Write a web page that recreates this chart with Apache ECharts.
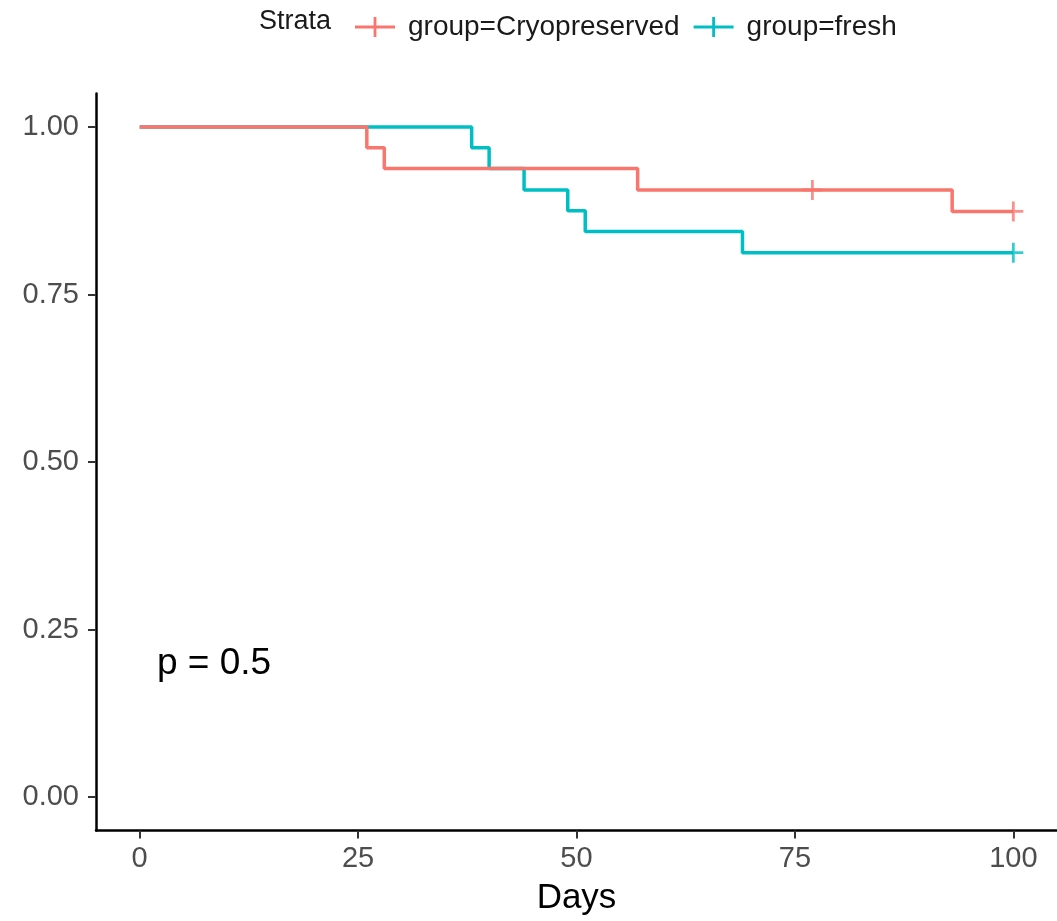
<!DOCTYPE html>
<html>
<head>
<meta charset="utf-8">
<script src="https://cdn.jsdelivr.net/npm/echarts@6/dist/echarts.min.js"></script>
<style>
html,body{margin:0;padding:0;background:#fff;}
#chart{width:1057px;height:921px;}
</style>
</head>
<body>
<div id="chart"></div>
<script>
// Kaplan-Meier step data (time in days, survival probability)
const cryoTimes = [0, 26, 28, 57, 93, 100];
const cryoSurv  = [1.0, 0.969, 0.938, 0.906, 0.874, 0.874];
const cryoCensorTimes = [77, 100];
const cryoCensorSurv  = [0.906, 0.874];

const freshTimes = [0, 38, 40, 44, 49, 51, 69, 100];
const freshSurv  = [1.0, 0.969, 0.938, 0.906, 0.875, 0.844, 0.8125, 0.8125];
const freshCensorTimes = [100];
const freshCensorSurv  = [0.8125];

const xTicks = [0, 25, 50, 75, 100];
const yTicks = [0, 0.25, 0.5, 0.75, 1.0];
const seriesNames = ['group=Cryopreserved', 'group=fresh'];
const colors = ['#F8766D', '#00BFC4'];
const pValueText = 'p = 0.5';

const zip = (a, b) => a.map((v, i) => [v, b[i]]);
const plusPath = 'path://M-1.4,-10H1.4V10H-1.4Z M-10,-1.4H10V1.4H-10Z';
const legendIcon = 'path://M0,8.6H40V11.4H0Z M18.6,0H21.4V20H18.6Z';

const chart = echarts.init(document.getElementById('chart'));
const font = 'Liberation Sans, Arial, sans-serif';

chart.setOption({
  animation: false,
  backgroundColor: '#fff',
  textStyle: {fontFamily: font},
  grid: {left: 96, top: 93.5, width: 962, height: 737, containLabel: false},
  legend: {
    data: seriesNames.map((n, i) => ({name: n, icon: legendIcon, itemStyle: {color: colors[i]}})),
    left: 350, top: 8,
    itemWidth: 40, itemHeight: 20, itemGap: 14,
    textStyle: {fontSize: 28, color: '#1a1a1a', fontFamily: font, padding: [0, 0, 0, 8]}
  },
  graphic: [
    {type: 'text', left: 259, top: 8, style: {text: 'Strata', fontSize: 27, fill: '#1a1a1a', fontFamily: font}},
    {type: 'text', left: 157, top: 645, style: {text: pValueText, fontSize: 37, fill: '#000', fontFamily: font}}
  ],
  xAxis: {
    type: 'value', min: -5, max: 105,
    name: 'Days', nameLocation: 'middle', nameGap: 50,
    nameTextStyle: {fontSize: 35, color: '#000', fontFamily: font},
    splitLine: {show: false},
    axisLine: {onZero: false, lineStyle: {color: '#000', width: 2.5}},
    axisTick: {customValues: xTicks, length: 8, lineStyle: {color: '#333', width: 2}},
    axisLabel: {customValues: xTicks, fontSize: 29, color: '#4D4D4D', margin: 14, fontFamily: font}
  },
  yAxis: {
    type: 'value', min: -0.05, max: 1.05,
    splitLine: {show: false},
    axisLine: {onZero: false, lineStyle: {color: '#000', width: 2.5}},
    axisTick: {customValues: yTicks, length: 8, lineStyle: {color: '#333', width: 2}},
    axisLabel: {customValues: yTicks, fontSize: 29, color: '#4D4D4D', margin: 17, fontFamily: font,
      formatter: v => v.toFixed(2)}
  },
  series: [
    {name: seriesNames[0], type: 'line', step: 'end', data: zip(cryoTimes, cryoSurv),
      showSymbol: false, lineStyle: {color: colors[0], width: 3.5}, itemStyle: {color: colors[0]}, z: 3},
    {name: seriesNames[1], type: 'line', step: 'end', data: zip(freshTimes, freshSurv),
      showSymbol: false, lineStyle: {color: colors[1], width: 3.5}, itemStyle: {color: colors[1]}, z: 2},
    {name: seriesNames[0], type: 'scatter', data: zip(cryoCensorTimes, cryoCensorSurv),
      symbol: plusPath, symbolSize: 20, itemStyle: {color: colors[0]}, z: 4},
    {name: seriesNames[1], type: 'scatter', data: zip(freshCensorTimes, freshCensorSurv),
      symbol: plusPath, symbolSize: 20, itemStyle: {color: colors[1]}, z: 4}
  ]
});
</script>
</body>
</html>
